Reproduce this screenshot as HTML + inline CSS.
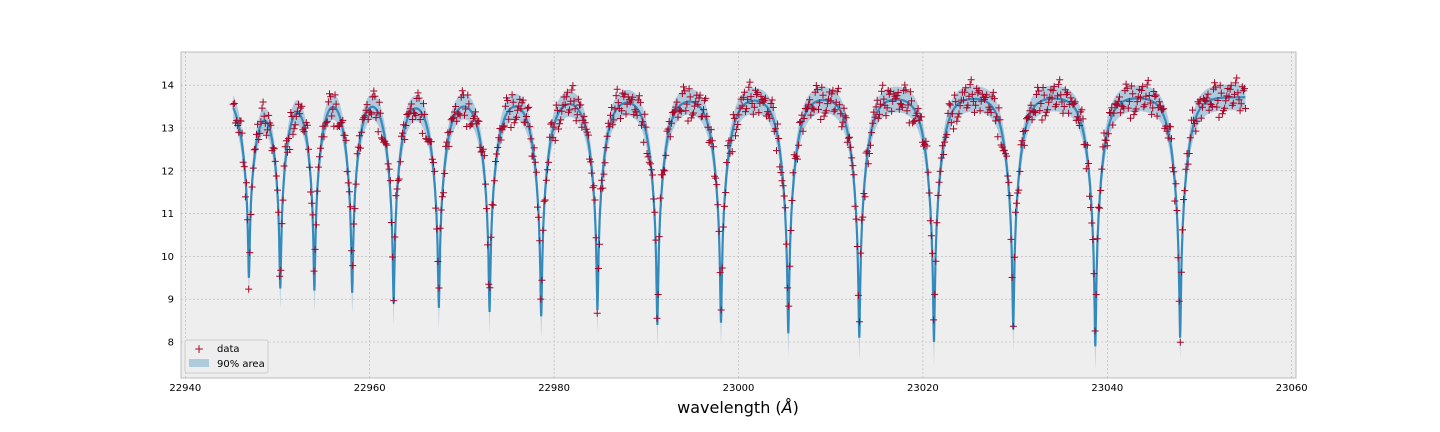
<!DOCTYPE html>
<html><head><meta charset="utf-8"><style>
body{margin:0;background:#fff;}
svg{display:block;font-family:"DejaVu Sans","Liberation Sans",sans-serif;}
</style></head><body>
<svg id="chart" width="1440" height="432" viewBox="0 0 1440 432">
<rect x="181" y="52" width="1115" height="326" fill="#eeeeee" stroke="#bcbcbc" stroke-width="1"/>
<g id="grid"></g>
<g id="band"></g>
<g id="line"></g>
<g id="pts"></g>
<g id="ticks"></g>
<text x="738" y="413" font-size="16" text-anchor="middle">wavelength (<tspan font-style="italic">Å</tspan>)</text>
<g>
<rect x="185" y="340" width="83" height="33" fill="#eeeeee" stroke="#cccccc" rx="2"/>
<text x="199" y="353" font-size="12" fill="#A60628" text-anchor="middle">+</text>
<text x="217" y="352" font-size="10">data</text>
<rect x="189" y="359" width="20" height="8" fill="#348ABD" fill-opacity="0.35"/>
<text x="217" y="367" font-size="10">90% area</text>
</g>
</svg>
<script>
const lineCenters=[22946.9,22950.3,22954.0,22958.1,22962.6,22967.5,22973.0,22978.6,22984.7,22991.2,22998.1,23005.4,23013.1,23021.2,23029.8,23038.7,23047.9];
const lineMinima=[9.5,9.25,9.2,9.15,8.9,8.8,8.7,8.6,8.75,8.4,8.45,8.2,8.1,8.0,8.3,7.9,8.1];
const noise=[0.12,-0.25,0.31,-0.08,0.4,-0.35,0.05,0.22,-0.18,0.5,-0.42,0.15,-0.05,0.28,-0.3,0.09,0.36,-0.2,-0.5,0.18,0.02,-0.12,0.45,-0.27,0.33,-0.4,0.1,0.25,-0.15,0.6,-0.07,0.2,-0.33,0.04,0.38,-0.22,0.14,-0.6,0.27,-0.1];
const xTicks=[22940,22960,22980,23000,23020,23040,23060];
const yTicks=[8,9,10,11,12,13,14];
const xStart=22945.2, xEnd=23055;
const X=v=>185.3+(v-22940)*9.22;
const Y=v=>342-(v-8)*42.8;
const NS="http://www.w3.org/2000/svg";
const cont=x=>13.72+0.32*Math.exp(-Math.pow((x-22954)/9,2));
const kern=d=>0.3*0.0144/(0.0144+d*d)+0.7*Math.exp(-Math.abs(d)/0.8);
let amps=lineCenters.map((c,i)=>cont(c)-lineMinima[i]);
for(let it=0;it<30;it++){amps=lineCenters.map((c,i)=>{let o=0;for(let j=0;j<lineCenters.length;j++)if(j!==i)o+=amps[j]*kern(c-lineCenters[j]);return cont(c)-lineMinima[i]-o;});}
function model(x){let s=cont(x);for(let i=0;i<lineCenters.length;i++)s-=amps[i]*kern(x-lineCenters[i]);return s;}
function mk(tag,attrs,parent){const e=document.createElementNS(NS,tag);for(const k in attrs)e.setAttribute(k,attrs[k]);parent.appendChild(e);return e;}
const grid=document.getElementById('grid'),ticks=document.getElementById('ticks');
xTicks.forEach(t=>{const l=mk('line',{x1:X(t),x2:X(t),y1:52,y2:378,stroke:'#b2b2b2','stroke-dasharray':'2,2','stroke-width':0.6},grid);


const tx=mk('text',{x:X(t),y:391,'font-size':10,'text-anchor':'middle'},ticks);tx.textContent=t;

});
yTicks.forEach(t=>{const l=mk('line',{x1:181,x2:1296,y1:Y(t),y2:Y(t),stroke:'#b2b2b2','stroke-dasharray':'2,2','stroke-width':0.6},grid);


const tx=mk('text',{x:174,y:Y(t)+3.5,'font-size':10,'text-anchor':'end'},ticks);tx.textContent=t;

});
let up=[],lo=[],ln=[];
for(let x=xStart;x<=xEnd;x+=0.02){const m=model(x);const w=0.3+0.2*Math.max(0,(12.8-m))/4;up.push(X(x).toFixed(1)+','+Y(m+w).toFixed(1));lo.push(X(x).toFixed(1)+','+Y(m-w).toFixed(1));ln.push(X(x).toFixed(1)+','+Y(m).toFixed(1));}
const band=mk('polygon',{points:up.concat(lo.reverse()).join(' '),fill:'#348ABD','fill-opacity':0.35},document.getElementById('band'));


const pl=mk('polyline',{points:ln.join(' '),fill:'none',stroke:'#348ABD','stroke-width':2.2},document.getElementById('line'));


let d='';let i=0;
for(let x=xStart;x<=xEnd;x+=0.12){const v=model(x)+noise[(i*7)%noise.length]*0.75;const px=X(x),py=Y(v);d+=`M${(px-3.5).toFixed(1)},${py.toFixed(1)}h7M${px.toFixed(1)},${(py-3.5).toFixed(1)}v7`;i++;}
const p=mk('path',{d:d,stroke:'#A60628','stroke-width':1,fill:'none'},document.getElementById('pts'));


</script>
</body></html>
